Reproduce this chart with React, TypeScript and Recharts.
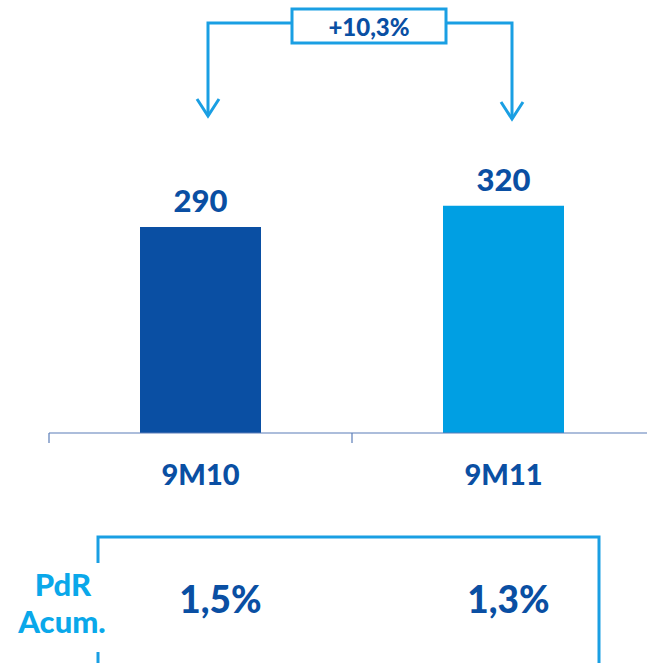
import React from "react";
import { BarChart, Bar, XAxis, YAxis, Cell, LabelList } from "recharts";

const categories = ["9M10", "9M11"];
const values = [290, 320];
const pdrValues = ["1,5%", "1,3%"];
const growthLabel = "+10,3%";
const rowLabel = ["PdR", "Acum."];

const DARK = "#0a4fa3";
const LIGHT = "#009fe3";
const LINE = "#1a9fe3";
const FONT = "Lato, 'Open Sans', sans-serif";

const CHART_W = 660;
const CHART_H = 663;
const AXIS_H = 230;
const M = { top: 149, left: 49, right: 5, bottom: 0 };
const BAND = (CHART_W - M.left - M.right) / categories.length;

const data = categories.map((c, i) => ({ cat: c, value: values[i], pdr: pdrValues[i] }));
const barColors = [DARK, LIGHT];

const Tick = (props: any) => {
  const { x, y, payload, index } = props;
  const left = x - BAND / 2;
  return (
    <g>
      <line x1={left} y1={y - 8} x2={left} y2={y + 2} stroke="#5b7db8" strokeWidth={1.2} />
      <text x={x} y={y + 44} textAnchor="middle" fill={DARK} fontFamily={FONT} fontWeight={900} fontSize={29}>
        {payload.value}
      </text>
      <text x={x + (index === 0 ? 20 : 5)} y={y + 172} textAnchor="middle" fill={DARK} fontFamily={FONT} fontWeight={900} fontSize={37}>
        {data[index].pdr}
      </text>
    </g>
  );
};

export default function App() {
  return (
    <div style={{ position: "absolute", left: 0, top: 0, width: 647, height: 663, overflow: "hidden", background: "#fff" }}>
      <BarChart width={CHART_W} height={CHART_H} data={data} margin={M}>
        <YAxis hide domain={[0, 400]} />
        <XAxis
          dataKey="cat"
          axisLine={{ stroke: "#5b7db8", strokeWidth: 1.2 }}
          tickLine={false}
          tick={<Tick />}
          height={AXIS_H}
          interval={0}
        />
        <Bar dataKey="value" barSize={121} isAnimationActive={false}>
          {data.map((d, i) => (
            <Cell key={d.cat} fill={barColors[i]} />
          ))}
          <LabelList
            dataKey="value"
            position="top"
            offset={15}
            fill={DARK}
            fontFamily={FONT}
            fontWeight={900}
            fontSize={31}
          />
        </Bar>
      </BarChart>
      <svg width={647} height={663} style={{ position: "absolute", left: 0, top: 0, pointerEvents: "none" }}>
        <g stroke={LINE} strokeWidth={3} fill="none">
          <polyline points="208,116 208,23 292,23" />
          <polyline points="446,23 512,23 512,119" />
          <polyline points="197,99 208,116 219,99" />
          <polyline points="501,102 512,119 523,102" />
          <rect x={292} y={9} width={154} height={34} fill="#fff" />
        </g>
        <text x={369} y={36} textAnchor="middle" fill={DARK} fontFamily={FONT} fontWeight={900} fontSize={24}>
          {growthLabel}
        </text>
        <g stroke={LINE} strokeWidth={3} fill="none">
          <polyline points="98,563 98,537 599,537 599,663" />
          <line x1={98} y1={652} x2={98} y2={663} />
        </g>
        <text x={63} y={596} textAnchor="middle" fill="#0aa8ea" fontFamily={FONT} fontWeight={900} fontSize={31}>
          {rowLabel[0]}
        </text>
        <text x={62} y={633} textAnchor="middle" fill="#0aa8ea" fontFamily={FONT} fontWeight={900} fontSize={31}>
          {rowLabel[1]}
        </text>
      </svg>
    </div>
  );
}
